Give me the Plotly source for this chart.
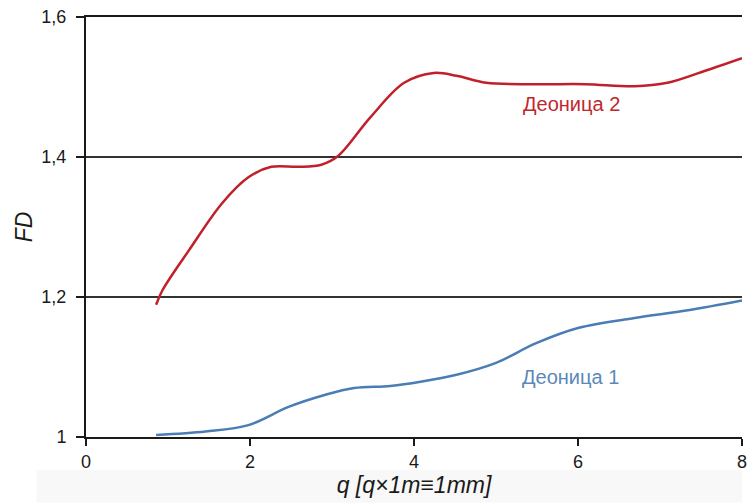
import plotly.graph_objects as go

# Деоница 2 (red)
q2 = [0.855, 0.934, 1.257, 1.66, 1.98, 2.26, 2.59, 2.87, 3.07, 3.47, 3.88, 4.24, 4.52, 4.88, 5.49, 6.09, 6.69, 7.09, 7.5, 8.0]
fd2 = [1.189, 1.21, 1.267, 1.334, 1.371, 1.386, 1.386, 1.389, 1.401, 1.457, 1.506, 1.52, 1.516, 1.506, 1.504, 1.504, 1.501, 1.506, 1.521, 1.541]

# Деоница 1 (blue)
q1 = [0.855, 1.46, 1.98, 2.47, 2.91, 3.27, 3.71, 4.08, 4.52, 5.0, 5.49, 6.01, 6.69, 7.34, 8.0]
fd1 = [1.003, 1.008, 1.017, 1.043, 1.06, 1.07, 1.073, 1.079, 1.089, 1.106, 1.134, 1.156, 1.17, 1.181, 1.195]

x_ticks = [0, 2, 4, 6, 8]
y_ticks = [1, 1.2, 1.4, 1.6]
y_ticktext = ["1", "1,2", "1,4", "1,6"]

RED = "#c0202a"
BLUE = "#4a7db5"
FONT = "Liberation Sans, Arial, sans-serif"

fig = go.Figure()
fig.add_trace(go.Scatter(x=q1, y=fd1, mode="lines", line=dict(color=BLUE, width=2.5, shape="spline", smoothing=1.0),
                         showlegend=False, hoverinfo="skip"))
fig.add_trace(go.Scatter(x=q2, y=fd2, mode="lines", line=dict(color=RED, width=2.5, shape="spline", smoothing=1.0),
                         showlegend=False, hoverinfo="skip"))

fig.add_annotation(x=5.92, y=1.476, text="Деоница 2", showarrow=False,
                   font=dict(family=FONT, size=20, color="#c0272d"))
fig.add_annotation(x=5.91, y=1.086, text="Деоница 1", showarrow=False,
                   font=dict(family=FONT, size=20, color="#5b88bb"))

# faint band at bottom of the picture
fig.add_shape(type="rect", xref="paper", yref="paper", x0=-0.0755, x1=1.0, y0=-0.0786, y1=-0.156,
              fillcolor="#f8f8f8", line=dict(width=0), layer="below")

fig.update_layout(
    width=753, height=503, autosize=False,
    margin=dict(l=86, r=6, t=17, b=66),
    paper_bgcolor="white", plot_bgcolor="white",
    font=dict(family=FONT, size=18, color="#1a1a1a"),
    xaxis=dict(range=[0, 8], tickvals=x_ticks, showgrid=False, zeroline=False,
               showline=True, linecolor="#1a1a1a", linewidth=2, mirror=True,
               ticks="outside", ticklen=7, tickwidth=1.5, tickcolor="#1a1a1a",
               tickfont=dict(size=18),
               title=dict(text="<i>q [q×1m≡1mm]</i>", font=dict(size=23), standoff=6)),
    yaxis=dict(range=[1, 1.6], tickvals=y_ticks, ticktext=y_ticktext,
               showgrid=True, gridcolor="#333333", gridwidth=1.5, zeroline=False,
               showline=True, linecolor="#1a1a1a", linewidth=2,
               ticks="outside", ticklen=8, tickwidth=1.5, tickcolor="#1a1a1a",
               tickfont=dict(size=18), ticklabelstandoff=6,
               title=dict(text="<i>FD</i>", font=dict(size=23), standoff=2)),
)

fig.write_html("out.html", config={"displayModeBar": False, "responsive": False},
               post_script="document.body.style.margin='0';document.body.style.overflow='hidden';")
